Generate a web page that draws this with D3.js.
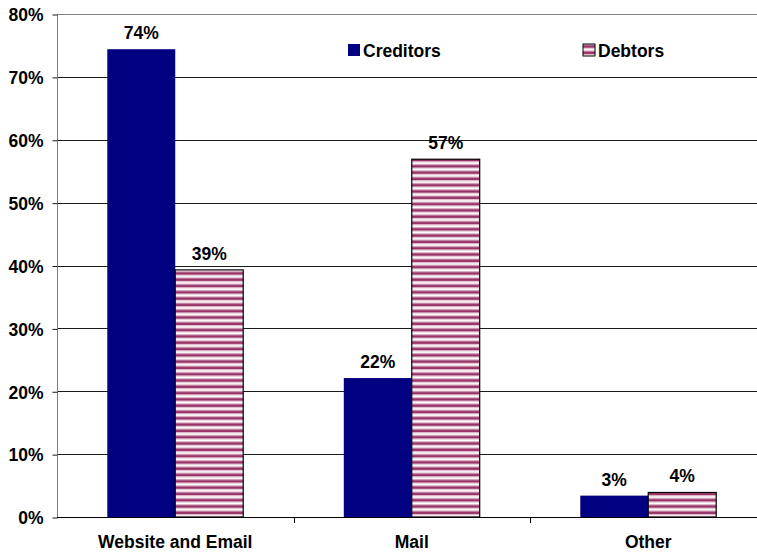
<!DOCTYPE html>
<html>
<head>
<meta charset="utf-8">
<script src="https://cdn.jsdelivr.net/npm/d3@7"></script>
<style>
  html, body { margin: 0; padding: 0; background: #fff; }
  svg { display: block; font-family: "Liberation Sans", Arial, sans-serif; }
</style>
</head>
<body>
<svg id="chart" width="757" height="552"></svg>
<script>
// Contact channel shares by respondent group
const categories = ["Website and Email", "Mail", "Other"];
const seriesNames = ["Creditors", "Debtors"];
const creditors = [0.744, 0.221, 0.034];
const debtors = [0.393, 0.569, 0.039];
const yTicks = [0, 0.1, 0.2, 0.3, 0.4, 0.5, 0.6, 0.7, 0.8];

const W = 757, H = 552;
const plotLeft = 57, plotRight = 766.5, plotTop = 14, plotBottom = 517;
const fontSize = 17.5;

const svg = d3.select("#chart");
const pct = d3.format(".0%");

// Horizontal maroon stripe fill for the Debtors series
const defs = svg.append("defs");
const pat = defs.append("pattern")
  .attr("id", "stripes")
  .attr("patternUnits", "userSpaceOnUse")
  .attr("width", 8).attr("height", 6.3);
pat.append("rect").attr("width", 8).attr("height", 6.3).attr("fill", "#ffffff");
pat.append("rect").attr("y", 0.2).attr("width", 8).attr("height", 1).attr("fill", "#d6a9c0");
pat.append("rect").attr("y", 1.2).attr("width", 8).attr("height", 2.6).attr("fill", "#993366");
pat.append("rect").attr("y", 3.8).attr("width", 8).attr("height", 1).attr("fill", "#d6a9c0");

const x0 = d3.scaleBand().domain(categories).range([plotLeft, plotRight]).paddingInner(0).paddingOuter(0);
const x1 = d3.scaleBand().domain(seriesNames).range([0, x0.bandwidth()]).paddingInner(0).paddingOuter(0.74);
const y = d3.scaleLinear().domain([0, 0.8]).range([plotBottom, plotTop]);

const fills = { Creditors: "#000080", Debtors: "url(#stripes)" };

// Gridlines
svg.append("g").selectAll("line")
  .data(yTicks.slice(1))
  .join("line")
  .attr("x1", plotLeft).attr("x2", W)
  .attr("y1", d => Math.round(y(d)) + 0.5).attr("y2", d => Math.round(y(d)) + 0.5)
  .attr("stroke", (d, i, a) => i === a.length - 1 ? "#808080" : "#1a1a1a")
  .attr("stroke-width", 1);

// Y axis
const yAxis = d3.axisLeft(y).tickValues(yTicks).tickFormat(pct).tickSize(5).tickPadding(9);
const gy = svg.append("g").attr("transform", `translate(${plotLeft + 0.5},0.5)`).call(yAxis);
gy.select(".domain").attr("stroke", "#808080").attr("d", `M0,${plotTop}V${plotBottom}`);
gy.selectAll(".tick line").attr("stroke", "#1a1a1a");
gy.selectAll(".tick text")
  .attr("fill", "#000").attr("font-size", fontSize).attr("font-weight", "bold")
  .attr("font-family", "Liberation Sans, Arial, sans-serif")
  .attr("dy", "0.36em");

// Bars
const rows = categories.map((c, i) => ({ cat: c, values: [
  { key: "Creditors", v: creditors[i] },
  { key: "Debtors", v: debtors[i] }
]}));

const groups = svg.append("g").selectAll("g")
  .data(rows).join("g")
  .attr("transform", d => `translate(${x0(d.cat)},0)`);

groups.selectAll("rect")
  .data(d => d.values)
  .join("rect")
  .attr("x", d => x1(d.key))
  .attr("y", d => y(d.v))
  .attr("width", x1.bandwidth())
  .attr("height", d => plotBottom - y(d.v))
  .attr("fill", d => fills[d.key])
  .attr("stroke", d => d.key === "Debtors" ? "#000" : "none")
  .attr("stroke-width", 1.2);

groups.selectAll("text")
  .data(d => d.values)
  .join("text")
  .attr("x", d => x1(d.key) + x1.bandwidth() / 2)
  .attr("y", d => y(d.v) - 10)
  .attr("text-anchor", "middle")
  .attr("font-size", fontSize).attr("font-weight", "bold")
  .text(d => pct(d.v));

// X axis baseline and category ticks
const xAxis = d3.axisBottom(x0).tickSize(0).tickPadding(18);
const gx = svg.append("g").attr("transform", `translate(0,${plotBottom + 0.5})`).call(xAxis);
gx.select(".domain").attr("stroke", "#000").attr("d", `M${plotLeft},0H${W}`);
gx.selectAll(".tick text")
  .attr("fill", "#000").attr("font-size", fontSize).attr("font-weight", "bold")
  .attr("font-family", "Liberation Sans, Arial, sans-serif");

svg.append("g").selectAll("line")
  .data(categories.slice(1))
  .join("line")
  .attr("x1", d => Math.round(x0(d)) + 0.5).attr("x2", d => Math.round(x0(d)) + 0.5)
  .attr("y1", plotBottom).attr("y2", plotBottom + 6)
  .attr("stroke", "#000");

// Legend
const legendPos = { Creditors: 348, Debtors: 583 };
const lg = svg.append("g").selectAll("g")
  .data(seriesNames).join("g")
  .attr("transform", d => `translate(${legendPos[d]},44)`);
lg.append("rect")
  .attr("width", 12).attr("height", 12)
  .attr("fill", d => fills[d])
  .attr("stroke", d => d === "Debtors" ? "#000" : "none");
lg.append("text")
  .attr("x", 15).attr("y", 12.5)
  .attr("font-size", fontSize).attr("font-weight", "bold")
  .text(d => d);
</script>
</body>
</html>
